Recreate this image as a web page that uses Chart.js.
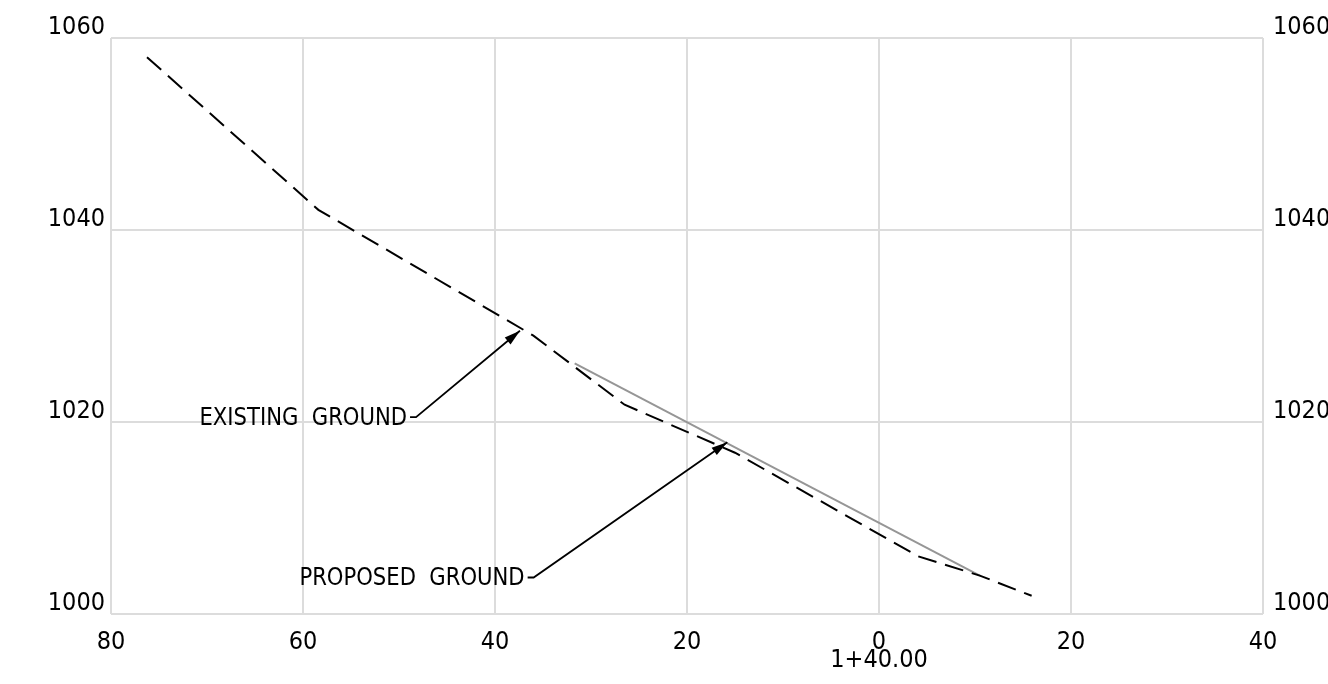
<!DOCTYPE html>
<html>
<head>
<meta charset="utf-8">
<script src="https://cdn.jsdelivr.net/npm/chart.js@4/dist/chart.umd.min.js"></script>
<style>
  html, body { margin: 0; padding: 0; background: #fff; }
  #wrap { width: 1328px; height: 684px; }
</style>
</head>
<body>
<div id="wrap"><canvas id="chart"></canvas></div>
<script>
// offsets from station 1+40.00 (negative = left) and elevations
const existingOffset = [-76.25, -58.4, -36.0, -26.5, -15.0, 4.1, 10.5, 15.9];
const existingElev = [1058.0, 1042.1, 1029.0, 1021.8, 1016.8, 1006.0, 1004.0, 1001.9];

const proposedOffset = [-31.7, 10.5];
const proposedElev = [1026.1, 1004.0];

const xTicks = [-80, -60, -40, -20, 0, 20, 40];
const yTicks = [1000, 1020, 1040, 1060];
const stationLabel = '1+40.00';

// callouts: text end point, arrow tip (data units)
const callouts = [
    { text: 'EXISTING  GROUND', at: [-48.85, 1020.5], tip: [-37.4, 1029.5] },
    { text: 'PROPOSED  GROUND', at: [-36.6, 1003.8], tip: [-15.8, 1017.9] },
];

const FONT = '"DejaVu Sans Condensed", "DejaVu Sans", sans-serif';

const toPoints = (xs, ys) => xs.map((x, i) => ({ x: x, y: ys[i] }));

const calloutPlugin = {
    id: 'callouts',
    afterDatasetsDraw(chart) {
        const ctx = chart.ctx;
        const sx = chart.scales.x, sy = chart.scales.y;
        ctx.save();
        ctx.font = '25px ' + FONT;
        ctx.fillStyle = '#000';
        ctx.strokeStyle = '#000';
        ctx.lineWidth = 1.8;
        ctx.textAlign = 'right';
        ctx.textBaseline = 'middle';
        callouts.forEach(c => {
            const x0 = sx.getPixelForValue(c.at[0]);
            const y0 = sy.getPixelForValue(c.at[1]);
            const x1 = sx.getPixelForValue(c.tip[0]);
            const y1 = sy.getPixelForValue(c.tip[1]);
            ctx.save();
            ctx.translate(x0 - 3, y0 + 1);
            ctx.scale(0.94, 1);
            ctx.fillText(c.text, 0, 0);
            ctx.restore();
            ctx.beginPath();
            ctx.moveTo(x0, y0);
            ctx.lineTo(x0 + 6, y0);
            ctx.lineTo(x1, y1);
            ctx.stroke();
            // arrow head
            const a = Math.atan2(y1 - y0, x1 - (x0 + 6));
            const len = 16, w = 4.5;
            ctx.beginPath();
            ctx.moveTo(x1, y1);
            ctx.lineTo(x1 - len * Math.cos(a) + w * Math.sin(a), y1 - len * Math.sin(a) - w * Math.cos(a));
            ctx.lineTo(x1 - len * Math.cos(a) - w * Math.sin(a), y1 - len * Math.sin(a) + w * Math.cos(a));
            ctx.closePath();
            ctx.fill();
        });
        ctx.restore();
    }
};

const gridColor = 'rgb(220, 220, 220)';

const yAxis = (pos, width, pad) => ({
    type: 'linear',
    position: pos,
    min: 1000,
    max: 1060,
    afterBuildTicks: s => { s.ticks = yTicks.map(v => ({ value: v })); },
    afterFit: s => { s.width = width; },
    border: { display: false },
    grid: { display: pos === 'left', color: gridColor, lineWidth: 2, drawTicks: false },
    ticks: {
        color: '#000',
        font: { family: FONT, size: 25 },
        padding: pad,
        labelOffset: -11,
        callback: v => String(v),
    }
});

const config = {
    type: 'line',
    data: {
        datasets: [{
            label: 'Existing ground',
            data: toPoints(existingOffset, existingElev),
            borderColor: '#000',
            borderWidth: 2,
            borderDash: [19, 9],
            pointRadius: 0,
            tension: 0,
        }, {
            label: 'Proposed ground',
            data: toPoints(proposedOffset, proposedElev),
            borderColor: 'rgb(150, 150, 150)',
            borderWidth: 2,
            pointRadius: 0,
            tension: 0,
        }]
    },
    options: {
        responsive: true,
        maintainAspectRatio: false,
        animation: false,
        layout: { padding: { top: 38, left: 0, right: 0, bottom: 0 } },
        plugins: { legend: { display: false }, tooltip: { enabled: false } },
        scales: {
            x: {
                type: 'linear',
                min: -80,
                max: 40,
                afterBuildTicks: s => { s.ticks = xTicks.map(v => ({ value: v })); },
                afterFit: s => { s.height = 70; },
                border: { display: false },
                grid: { color: gridColor, lineWidth: 2, drawTicks: false },
                ticks: {
                    color: '#000',
                    font: { family: FONT, size: 25, lineHeight: 0.72 },
                    padding: 19,
                    maxRotation: 0,
                    callback: v => v === 0 ? ['0', stationLabel] : String(Math.abs(v)),
                }
            },
            y: yAxis('left', 111, 6),
            y2: yAxis('right', 65, 10),
        }
    },
    plugins: [calloutPlugin]
};

new Chart(document.getElementById('chart'), config);
</script>
</body>
</html>
